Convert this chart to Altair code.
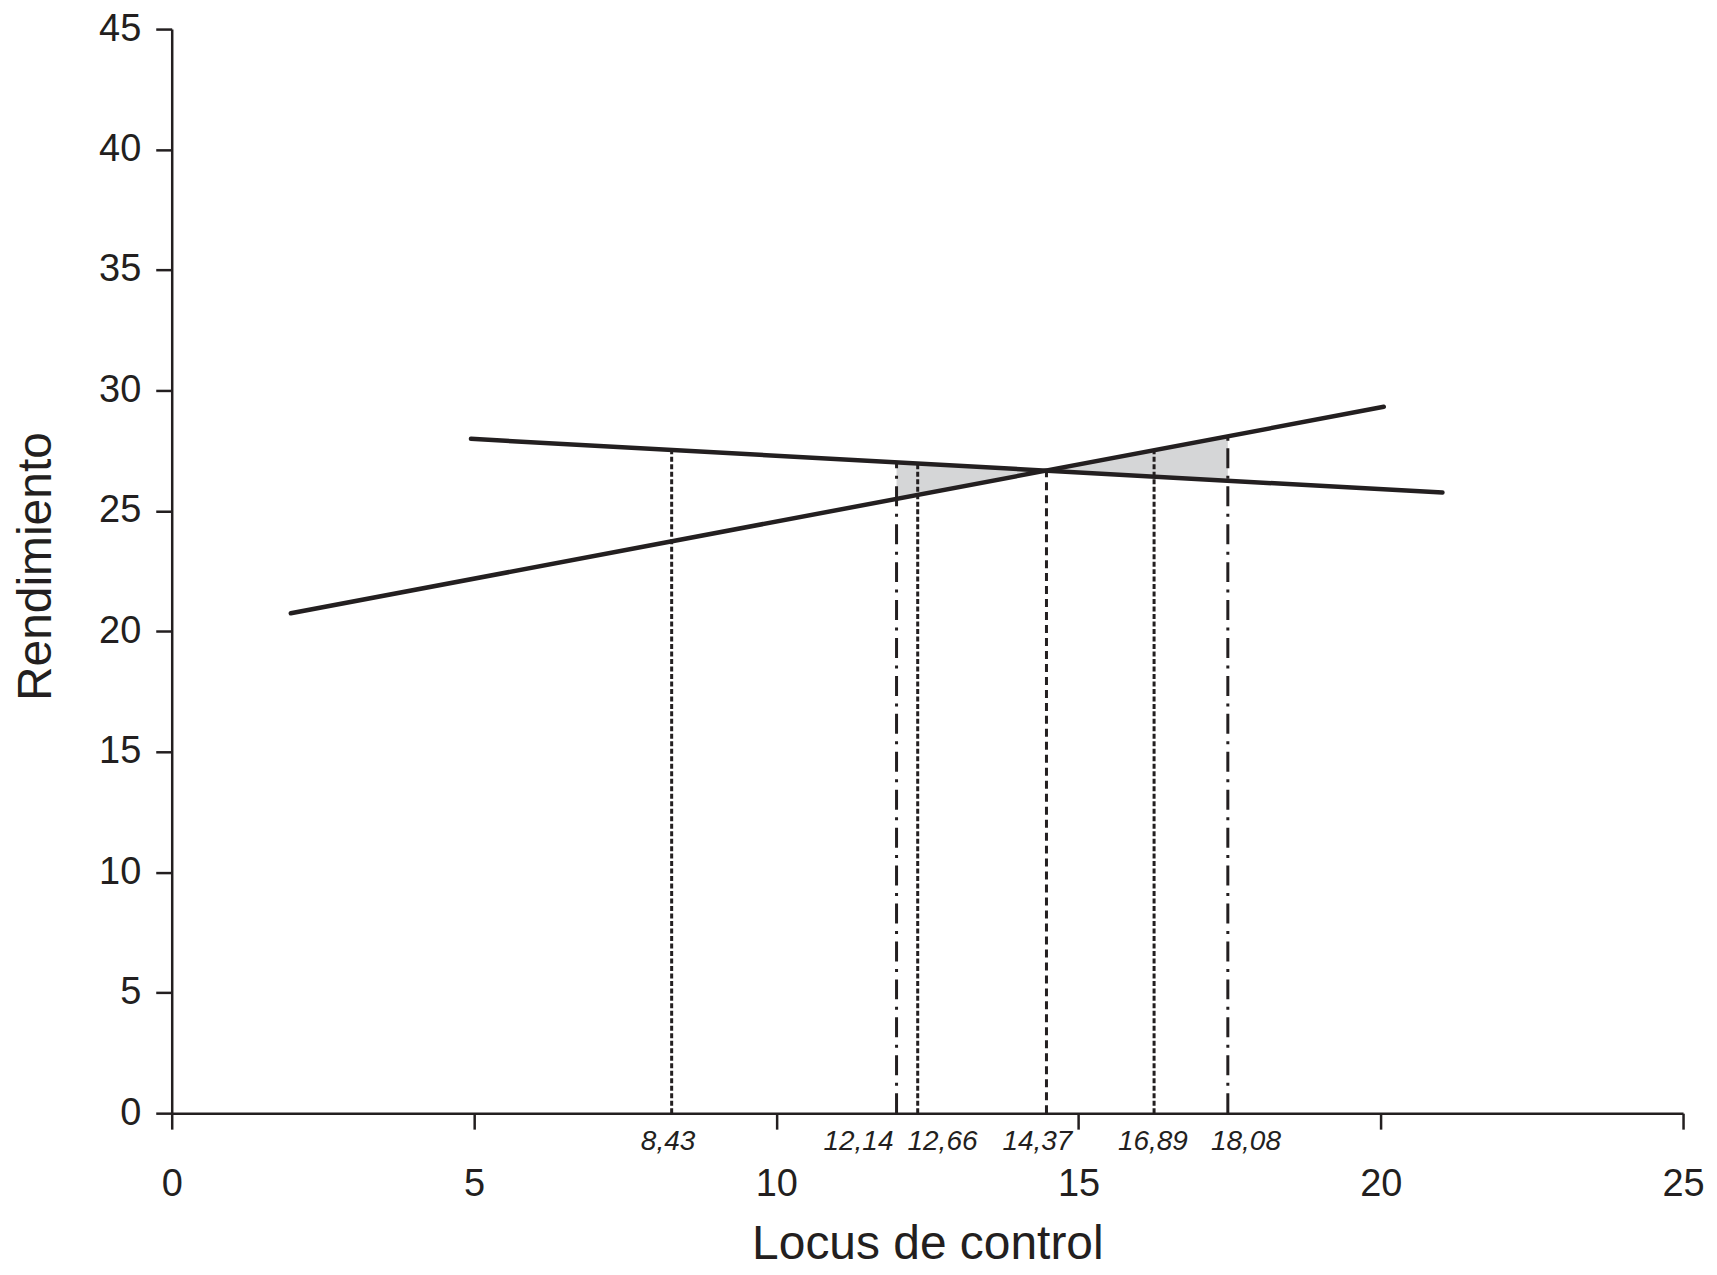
import altair as alt
import pandas as pd

# Regression lines (endpoints)
line_a_x = [1.97, 20.05]
line_a_y = [20.75, 29.32]
line_b_x = [4.95, 21.02]
line_b_y = [27.99, 25.76]

# Shaded region between the lines
shade_x = [11.99, 14.45, 17.47]
shade_lo = [25.50, 26.67, 26.25]
shade_hi = [27.01, 26.67, 28.10]

# Vertical reference lines
ref_x = [8.27, 11.99, 12.34, 14.47, 16.25, 17.47]
ref_top = [27.53, 27.01, 26.96, 26.67, 27.52, 28.10]
ref_style = ["dotted", "dashdot", "dotted", "dashed", "dotted", "dashdot"]

# Italic value labels under the axis
lab_text = ["8,43", "12,14", "12,66", "14,37", "16,89", "18,08"]
lab_x = [8.21, 11.36, 12.75, 14.32, 16.23, 17.77]

x_ticks = [0, 5, 10, 15, 20, 25]
y_ticks = [0, 5, 10, 15, 20, 25, 30, 35, 40, 45]

INK = "#231f20"
FONT = "Liberation Sans"

xs = alt.Scale(domain=[0, 25], nice=False)
ys = alt.Scale(domain=[0, 45], nice=False)

x_axis = alt.Axis(values=x_ticks, format="d", title="Locus de control", grid=False,
                  tickSize=16, tickWidth=2.5, tickColor=INK,
                  domainColor=INK, domainWidth=2.5,
                  labelFont=FONT, labelFontSize=38, labelColor=INK, labelPadding=36,
                  labelFlush=False, labelOverlap=False,
                  titleFont=FONT, titleFontSize=48, titleFontWeight="normal",
                  titleColor=INK, titleX=757, titleY=146,
                  titleAlign="center", titleBaseline="alphabetic")
y_axis = alt.Axis(values=y_ticks, format="d", title="Rendimiento", grid=False,
                  tickSize=16, tickWidth=2.5, tickColor=INK,
                  domainColor=INK, domainWidth=2.5,
                  labelFont=FONT, labelFontSize=38, labelColor=INK, labelPadding=15,
                  labelFlush=False, labelOverlap=False,
                  titleFont=FONT, titleFontSize=48, titleFontWeight="normal",
                  titleColor=INK, titleX=-121, titleY=538, titleAngle=270,
                  titleAlign="center", titleBaseline="alphabetic")

shade_df = pd.DataFrame({"x": shade_x, "lo": shade_lo, "hi": shade_hi})
shade = alt.Chart(shade_df).mark_area(color="#d5d6d7", opacity=1).encode(
    x=alt.X("x:Q", scale=xs, axis=x_axis),
    y=alt.Y("lo:Q", scale=ys, axis=y_axis),
    y2="hi:Q",
)

ref_df = pd.DataFrame({"x": ref_x, "top": ref_top, "style": ref_style,
                       "zero": [0] * len(ref_x)})
rules = alt.Chart(ref_df).mark_rule(color=INK, strokeWidth=3).encode(
    x=alt.X("x:Q", scale=xs),
    y=alt.Y("zero:Q", scale=ys),
    y2="top:Q",
    strokeDash=alt.StrokeDash("style:N", legend=None, scale=alt.Scale(
        domain=["dotted", "dashed", "dashdot"],
        range=[[5, 2.5], [8, 5], [20, 7.5, 3, 7.5]])),
)

lines_df = pd.DataFrame({
    "x": line_a_x + line_b_x,
    "y": line_a_y + line_b_y,
    "s": ["a", "a", "b", "b"],
})
lines = alt.Chart(lines_df).mark_line(color=INK, strokeWidth=4.5, strokeCap="round").encode(
    x=alt.X("x:Q", scale=xs),
    y=alt.Y("y:Q", scale=ys),
    detail="s:N",
)

lab_df = pd.DataFrame({"x": lab_x, "t": lab_text, "zero": [0] * len(lab_x)})
labels = alt.Chart(lab_df).mark_text(font=FONT, fontSize=28, fontStyle="italic",
                                     color=INK, baseline="middle", align="center",
                                     dy=29).encode(
    x=alt.X("x:Q", scale=xs),
    y=alt.Y("zero:Q", scale=ys),
    text="t:N",
)

chart = alt.layer(shade, rules, lines, labels).properties(
    width=1514, height=1086,
    autosize=alt.AutoSizeParams(type="none"),
    padding={"left": 164, "top": 20, "right": 26, "bottom": 158},
    background="white",
).configure_view(strokeWidth=0)

chart.save("out.html", embed_options={"renderer": "svg", "actions": False})
